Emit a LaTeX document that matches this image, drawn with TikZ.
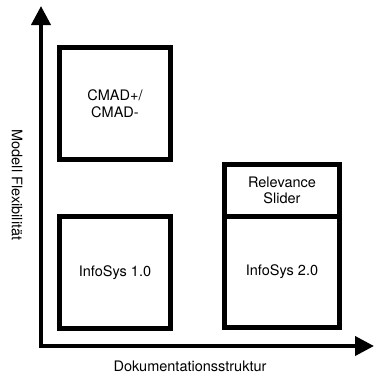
\documentclass[tikz,border=0pt]{standalone}
\usepackage{fontspec}
\setmainfont{TeX Gyre Heros}
\usetikzlibrary{arrows.meta}
\begin{document}
\begin{tikzpicture}[x=1pt,y=-1pt,
  box/.style={draw=black,line width=5pt,rectangle,inner sep=0pt,align=center,
    font=\fontsize{14.5}{16.5}\selectfont},
  axis/.style={line width=4pt,-{Triangle[length=19pt,width=19pt]}},
  axislabel/.style={font=\fontsize{14.5}{16.5}\selectfont,inner sep=0pt}]
  \useasboundingbox (0,0) rectangle (374,376);
  % quadrant boxes
  \node[box,minimum width=111pt,minimum height=112pt] (cmad) at (115,103.5) {CMAD+/\\CMAD-};
  \node[box,minimum width=111pt,minimum height=112pt] (info1) at (115,272.5) {InfoSys 1.0};
  \node[box,minimum width=115pt,minimum height=52pt] (slider) at (282,190.5) {Relevance\\Slider};
  \node[box,minimum width=115pt,minimum height=111pt] (info2) at (282,272) {InfoSys 2.0};
  % axes
  \coordinate (origin) at (41,346);
  \coordinate (ytip) at (41,6);
  \coordinate (xtip) at (374,346);
  \draw[axis] ([yshift=2pt]origin) -- (ytip);
  \draw[axis] ([xshift=-2pt]origin) -- (xtip);
  % axis labels
  \node[axislabel,rotate=-90] (ylab) at (17,185) {Modell Flexibilität};
  \node[axislabel] (xlab) at (190,366) {Dokumentationsstruktur};
\end{tikzpicture}
\end{document}
